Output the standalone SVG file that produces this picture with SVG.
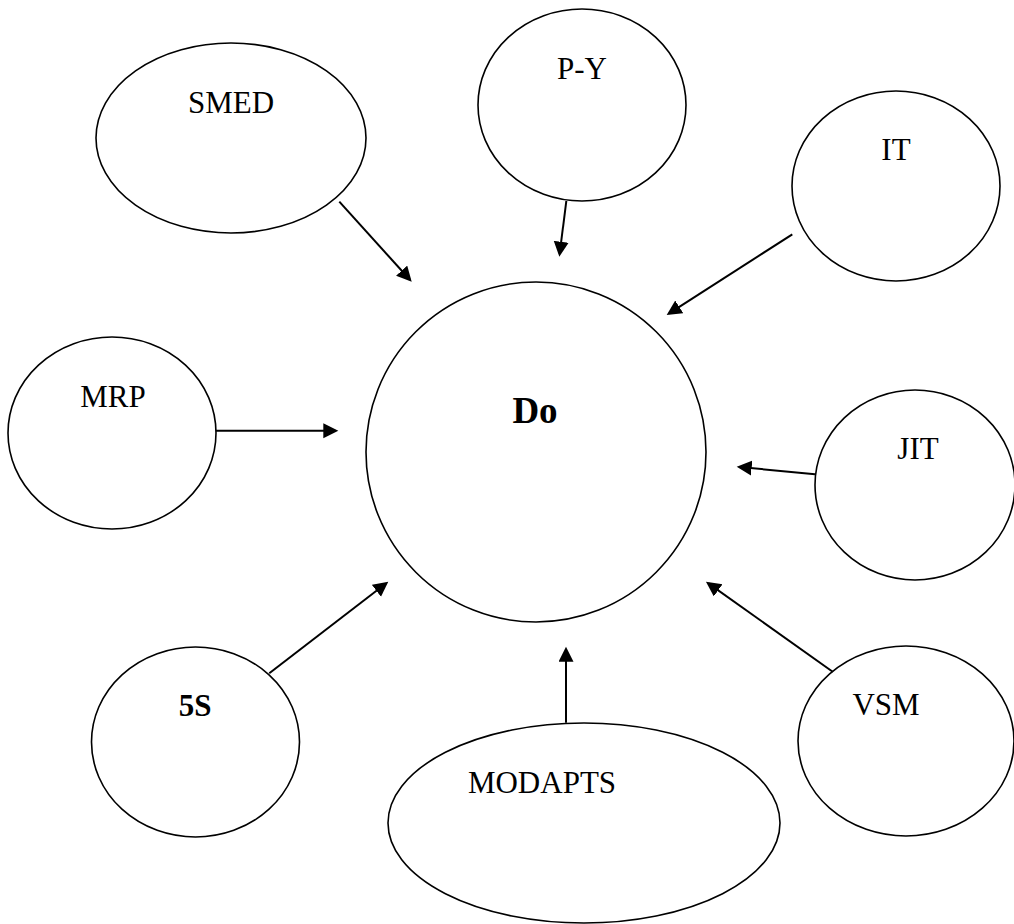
<svg xmlns="http://www.w3.org/2000/svg" width="1014" height="924" viewBox="0 0 1014 924">
  <style>
    .node { fill: #ffffff; stroke: #000000; stroke-width: 1.6; }
    .label { font-family: "Liberation Serif", "Times New Roman", serif; font-size: 31px; fill: #000000; text-anchor: middle; }
    .bold { font-weight: bold; }
    .edge { stroke: #000000; stroke-width: 2; fill: none; marker-end: url(#arrow); }
  </style>
  <defs>
    <marker id="arrow" markerUnits="userSpaceOnUse" markerWidth="16" markerHeight="16" refX="12" refY="7.5" orient="auto">
      <path d="M0,0 L15,7.5 L0,15 z" fill="#000000"/>
    </marker>
  </defs>
  <rect width="1014" height="924" fill="#ffffff"/>

  <!-- central node -->
  <g id="node-do">
    <circle class="node" cx="536" cy="452" r="170"/>
    <text class="label bold" x="535" y="423" style="font-size:37px">Do</text>
  </g>

  <!-- surrounding nodes -->
  <g id="node-smed">
    <ellipse class="node" cx="231" cy="138" rx="135" ry="95"/>
    <text class="label" x="231" y="113">SMED</text>
  </g>
  <g id="node-py">
    <ellipse class="node" cx="582" cy="105" rx="104" ry="96"/>
    <text class="label" x="582" y="79">P-Y</text>
  </g>
  <g id="node-it">
    <ellipse class="node" cx="896" cy="186" rx="104" ry="95"/>
    <text class="label" x="896" y="160">IT</text>
  </g>
  <g id="node-mrp">
    <ellipse class="node" cx="112" cy="433" rx="104" ry="96"/>
    <text class="label" x="113" y="407">MRP</text>
  </g>
  <g id="node-jit">
    <ellipse class="node" cx="915" cy="485" rx="100" ry="95"/>
    <text class="label" x="918" y="459">JIT</text>
  </g>
  <g id="node-5s">
    <ellipse class="node" cx="195.5" cy="742" rx="104" ry="95"/>
    <text class="label bold" x="195" y="716">5S</text>
  </g>
  <g id="node-vsm">
    <ellipse class="node" cx="906" cy="741" rx="108" ry="95"/>
    <text class="label" x="886" y="715">VSM</text>
  </g>
  <g id="node-modapts">
    <ellipse class="node" cx="584" cy="823" rx="196" ry="100"/>
    <text class="label" x="542" y="793">MODAPTS</text>
  </g>

  <!-- connectors into the central node -->
  <g id="connectors">
    <line class="edge" x1="339.3" y1="201.7" x2="409.7" y2="279.5"/>
    <line class="edge" x1="566.3" y1="201" x2="559.7" y2="253.7"/>
    <line class="edge" x1="792.3" y1="234.3" x2="669.2" y2="313.4"/>
    <line class="edge" x1="216" y1="430.7" x2="335.3" y2="430.7"/>
    <line class="edge" x1="815" y1="474.3" x2="739.7" y2="467"/>
    <line class="edge" x1="269.3" y1="673.3" x2="385.9" y2="583.5"/>
    <line class="edge" x1="832.7" y1="671.7" x2="708.4" y2="583.4"/>
    <line class="edge" x1="566" y1="722.7" x2="566" y2="649.7"/>
  </g>
</svg>
